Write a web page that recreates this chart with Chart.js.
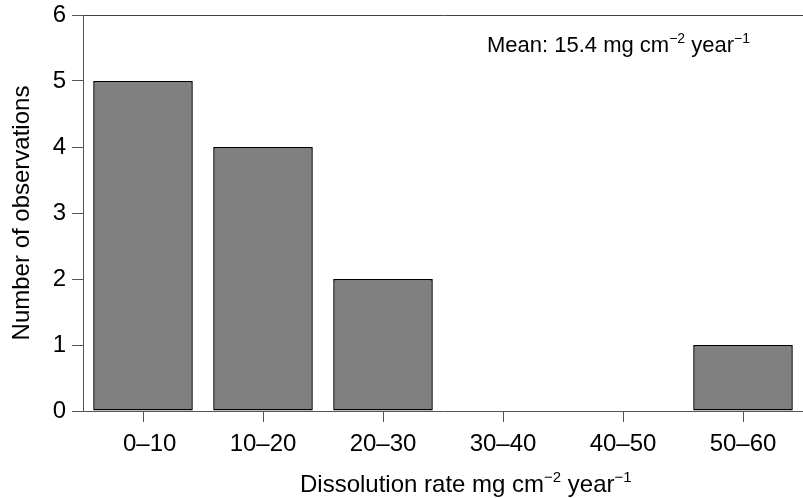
<!DOCTYPE html>
<html>
<head>
<meta charset="utf-8">
<script src="https://cdn.jsdelivr.net/npm/chart.js@4.4.1/dist/chart.umd.min.js"></script>
<style>
  html, body { margin: 0; padding: 0; background: #fff; }
  canvas { display: block; }
</style>
</head>
<body>
<canvas id="myChart" width="803" height="498"></canvas>
<script>
const categorias = ['  0–10', '10–20', '20–30', '30–40', '40–50', '50–60'];
const observaciones = [5, 4, 2, 0, 0, 1];
const yMin = 0;
const yMax = 6;
const yLabel = 'Number of observations';
// partes del texto: [texto, superindice]
const xLabel = [['Dissolution rate mg cm', false], ['−2', true], [' year', false], ['−1', true]];
const nota = [['Mean: 15.4 mg cm', false], ['−2', true], [' year', false], ['−1', true]];

const fuente = '"Liberation Sans", Arial, sans-serif';

const escribir = (ctx, partes, x, y, size) => {
    partes.forEach(p => {
        let s = p[1] ? Math.round(size * 0.64) : size;
        ctx.font = s + 'px ' + fuente;
        ctx.fillText(p[0], x, p[1] ? y - size * 0.4 : y);
        x += ctx.measureText(p[0]).width;
    });
};

const textos = {
    id: 'textos',
    afterDraw(chart) {
        const ctx = chart.ctx;
        ctx.save();
        ctx.fillStyle = '#000';
        ctx.textBaseline = 'alphabetic';
        ctx.textAlign = 'left';
        escribir(ctx, xLabel, 300, 492, 24);
        escribir(ctx, nota, 487, 52, 22);
        ctx.restore();
    }
};

let ctx = document.getElementById('myChart').getContext('2d');
let myChart = new Chart(ctx, {
    type: 'bar',
    data: {
        labels: categorias,
        datasets: [{
            label: 'Observations',
            data: observaciones,
            backgroundColor: '#808080',
            borderColor: '#000',
            borderWidth: 1.5,
            borderSkipped: false,
            barPercentage: 0.83,
            categoryPercentage: 1
        }]
    },
    options: {
        responsive: false,
        animation: false,
        layout: { padding: { top: 15, right: 0, left: 0, bottom: 0 } },
        plugins: {
            legend: { display: false },
            tooltip: { enabled: false }
        },
        scales: {
            x: {
                offset: true,
                afterFit: scale => {
                    scale.height = 87;
                    scale.paddingLeft = 0;
                    scale.paddingRight = 0;
                },
                grid: {
                    offset: false,
                    drawOnChartArea: false,
                    tickLength: 11,
                    color: '#555',
                    tickColor: '#555'
                },
                border: { color: '#555', width: 1 },
                ticks: {
                    color: '#000',
                    padding: 8,
                    font: { family: fuente, size: 24 }
                }
            },
            y: {
                min: yMin,
                max: yMax,
                afterFit: scale => {
                    scale.width = 83;
                    scale.paddingTop = 0;
                    scale.paddingBottom = 0;
                },
                grid: {
                    tickLength: 11,
                    color: c => c.tick && c.tick.value === yMax ? '#444' : 'rgba(0,0,0,0)',
                    tickColor: '#555'
                },
                border: { color: '#555', width: 1 },
                ticks: {
                    stepSize: 1,
                    color: '#000',
                    padding: 6,
                    font: { family: fuente, size: 24 }
                },
                title: {
                    display: true,
                    text: yLabel,
                    color: '#000',
                    padding: { top: 8, bottom: 0 },
                    font: { family: fuente, size: 24 }
                }
            }
        }
    },
    plugins: [textos]
});
</script>
</body>
</html>
